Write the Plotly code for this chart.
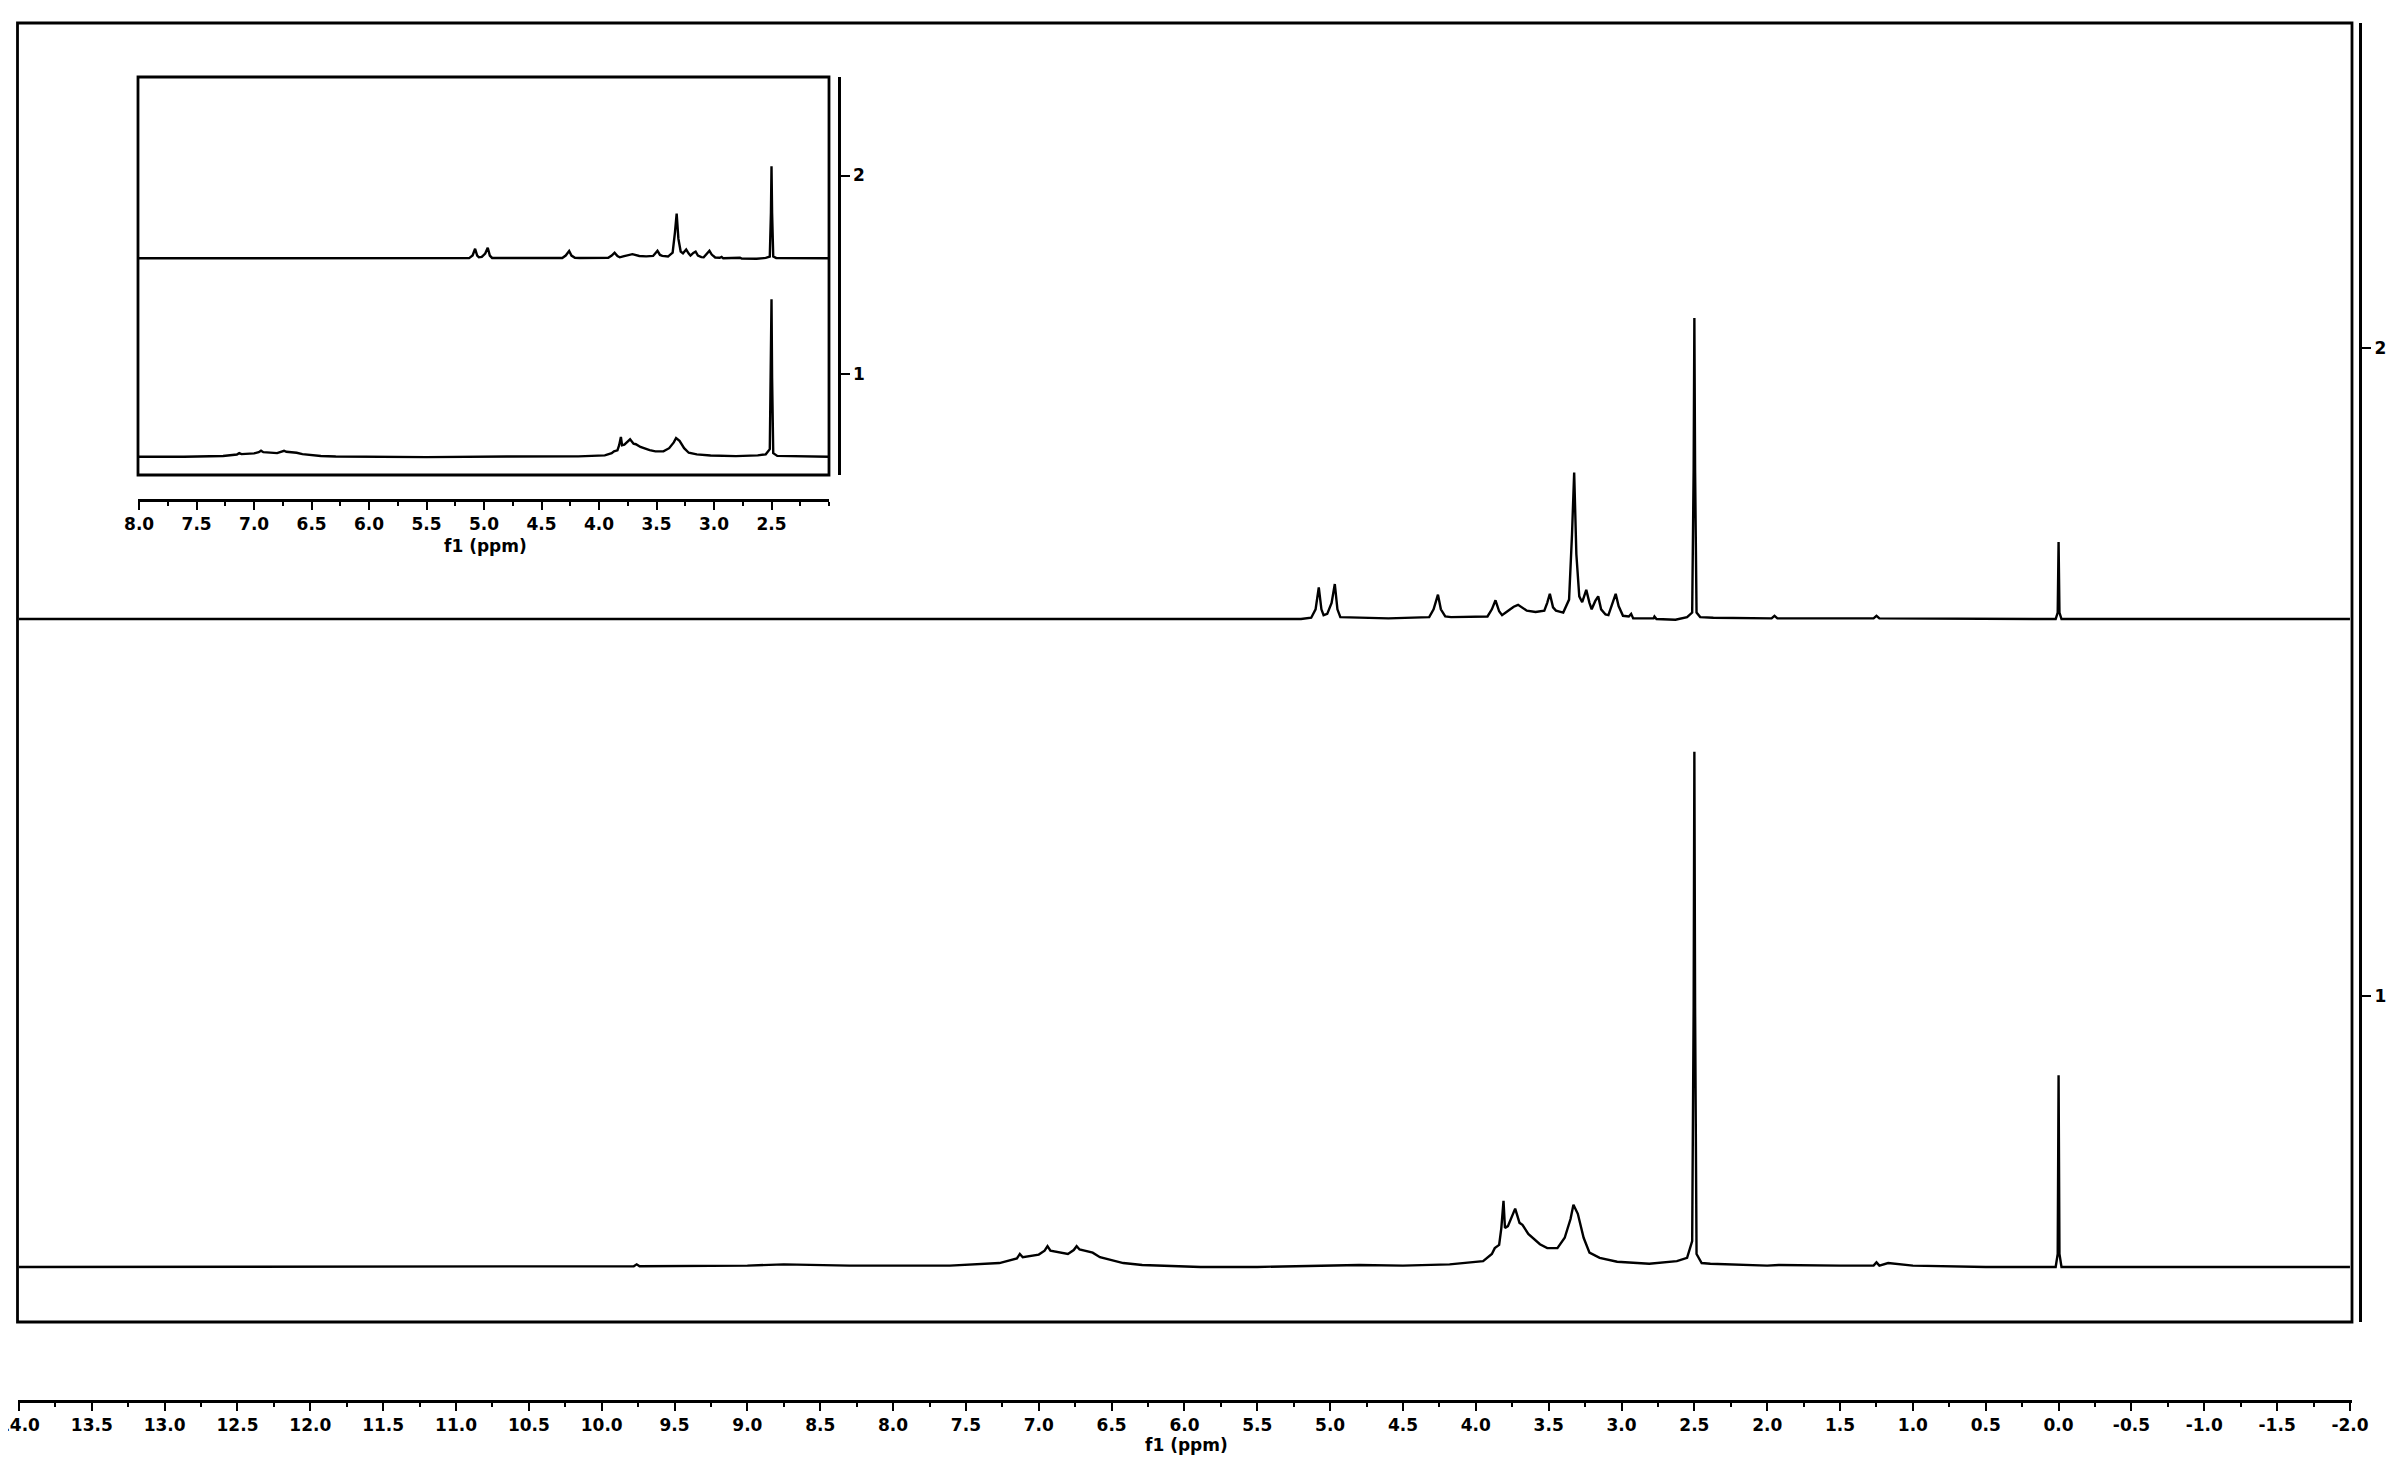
#%%
# Stacked 1H NMR spectra (1 = lower, 2 = upper) with a zoomed inset
import plotly.graph_objects as go

# spectrum 1 - chemical shift (ppm) and intensity above its own baseline
ppm_1 = [14.0, 12.0, 9.78, 9.76, 9.74, 9.0, 8.75, 8.3, 7.61, 7.27, 7.15, 7.13, 7.11,
         7.0, 6.96, 6.94, 6.92, 6.8, 6.76, 6.74, 6.72, 6.63, 6.58, 6.42, 6.29, 5.89,
         5.5, 4.8, 4.5, 4.18, 3.95, 3.89, 3.87, 3.84, 3.825, 3.81, 3.8, 3.78, 3.73,
         3.7, 3.68, 3.64, 3.56, 3.51, 3.44, 3.39, 3.35, 3.33, 3.3, 3.26, 3.22, 3.15,
         3.03, 2.81, 2.62, 2.55, 2.515, 2.505, 2.5, 2.495, 2.485, 2.45, 2.39, 2.0, 1.92,
         1.5, 1.27, 1.25, 1.23, 1.17, 1.0, 0.5, 0.02, 0.006, 0.0, -0.006, -0.02, -2.0]
int_1 = [0.0, 0.001, 0.001, 0.004, 0.001, 0.002, 0.004, 0.002, 0.002, 0.006, 0.013, 0.02, 0.015,
         0.019, 0.025, 0.032, 0.025, 0.02, 0.026, 0.032, 0.027, 0.022, 0.015, 0.006, 0.003, 0.0,
         0.0, 0.003, 0.002, 0.004, 0.009, 0.02, 0.029, 0.034, 0.06, 0.102, 0.06, 0.063, 0.09,
         0.068, 0.065, 0.051, 0.035, 0.029, 0.029, 0.045, 0.074, 0.096, 0.082, 0.045, 0.022, 0.014,
         0.008, 0.005, 0.009, 0.014, 0.04, 0.4, 0.795, 0.4, 0.02, 0.006, 0.005, 0.002, 0.003,
         0.002, 0.002, 0.007, 0.002, 0.006, 0.002, 0.0, 0.0, 0.02, 0.296, 0.02, 0.0, 0.0]

# spectrum 2
ppm_2 = [14.0, 5.2, 5.13, 5.1, 5.078, 5.06, 5.045, 5.02, 4.99, 4.968, 4.95, 4.93, 4.6,
         4.32, 4.29, 4.26, 4.24, 4.21, 4.17, 3.92, 3.89, 3.865, 3.84, 3.82, 3.79, 3.74,
         3.71, 3.65, 3.59, 3.53, 3.51, 3.492, 3.47, 3.45, 3.4, 3.36, 3.34, 3.325, 3.31,
         3.29, 3.27, 3.242, 3.22, 3.205, 3.18, 3.16, 3.14, 3.11, 3.09, 3.06, 3.04, 3.02,
         2.99, 2.95, 2.934, 2.92, 2.78, 2.774, 2.76, 2.63, 2.55, 2.515, 2.505, 2.5, 2.495,
         2.485, 2.46, 2.37, 1.97, 1.95, 1.93, 1.27, 1.25, 1.23, 0.5, 0.02, 0.006, 0.0,
         -0.006, -0.02, -2.0]
int_2 = [0.0, 0.0, 0.002, 0.015, 0.049, 0.015, 0.006, 0.008, 0.025, 0.054, 0.015, 0.003, 0.001,
         0.003, 0.015, 0.0376, 0.015, 0.004, 0.003, 0.004, 0.015, 0.029, 0.012, 0.006, 0.011, 0.019,
         0.022, 0.013, 0.011, 0.013, 0.025, 0.039, 0.018, 0.013, 0.01, 0.03, 0.13, 0.226, 0.1,
         0.035, 0.026, 0.045, 0.025, 0.015, 0.028, 0.035, 0.015, 0.007, 0.006, 0.025, 0.039, 0.02,
         0.005, 0.004, 0.008, 0.001, 0.001, 0.004, 0.0, -0.001, 0.003, 0.01, 0.23, 0.4645, 0.23,
         0.01, 0.003, 0.002, 0.001, 0.005, 0.001, 0.001, 0.005, 0.001, 0.0, 0.0, 0.01, 0.119,
         0.01, 0.0, 0.0]

# axis tick labels
main_tickvals = [14.0, 13.5, 13.0, 12.5, 12.0, 11.5, 11.0, 10.5, 10.0, 9.5, 9.0, 8.5, 8.0,
                 7.5, 7.0, 6.5, 6.0, 5.5, 5.0, 4.5, 4.0, 3.5, 3.0, 2.5, 2.0, 1.5, 1.0, 0.5,
                 0.0, -0.5, -1.0, -1.5, -2.0]
main_ticktext = ["14.0", "13.5", "13.0", "12.5", "12.0", "11.5", "11.0", "10.5", "10.0", "9.5",
                 "9.0", "8.5", "8.0", "7.5", "7.0", "6.5", "6.0", "5.5", "5.0", "4.5", "4.0",
                 "3.5", "3.0", "2.5", "2.0", "1.5", "1.0", "0.5", "0.0", "-0.5", "-1.0",
                 "-1.5", "-2.0"]
inset_tickvals = [8.0, 7.5, 7.0, 6.5, 6.0, 5.5, 5.0, 4.5, 4.0, 3.5, 3.0, 2.5]
inset_ticktext = ["8.0", "7.5", "7.0", "6.5", "6.0", "5.5", "5.0", "4.5", "4.0", "3.5", "3.0", "2.5"]
spectrum_ids = [1, 2]

# %%
# the html body keeps its default 8px margin, so the figure is 16px smaller than the window
PAGE_W, PAGE_H, BODY = 2395, 1464, 8
W, H = PAGE_W - 2 * BODY, PAGE_H - 2 * BODY
offset = 0.418  # each spectrum's baseline sits this far below its label tick
font = dict(family="DejaVu Sans", size=17, color="black", weight="bold")
title_font = dict(family="DejaVu Sans", size=17, color="black", weight="bold")

base_1 = [v + spectrum_ids[0] - offset for v in int_1]
base_2 = [v + spectrum_ids[1] - offset for v in int_2]

fig = go.Figure()
line = dict(color="black", width=2.4)
for xa, ya in [("x", "y"), ("x2", "y2")]:
    fig.add_trace(go.Scatter(x=ppm_1, y=base_1, mode="lines", line=line,
                             xaxis=xa, yaxis=ya, showlegend=False, hoverinfo="skip"))
    fig.add_trace(go.Scatter(x=ppm_2, y=base_2, mode="lines", line=line,
                             xaxis=xa, yaxis=ya, showlegend=False, hoverinfo="skip"))


# window pixel -> paper fraction
def px_x(p):
    return (p - BODY) / W


def px_y(p):
    return 1 - (p - BODY) / H


xcommon = dict(showgrid=False, zeroline=False, showline=True, linecolor="black", linewidth=3,
               ticks="outside", ticklen=8, tickwidth=2, tickcolor="black", tickfont=font,
               tickmode="array", automargin=False, ticklabeloverflow="allow",
               minor=dict(tickmode="linear", tick0=0, dtick=0.25, ticks="outside",
                          ticklen=4, tickwidth=2, tickcolor="black", showgrid=False))
ycommon = dict(showgrid=False, zeroline=False, showline=True, linecolor="black", linewidth=3,
               ticks="outside", ticklen=9, tickwidth=2, tickcolor="black", tickfont=font,
               tickmode="array", tickvals=spectrum_ids, ticktext=[str(i) for i in spectrum_ids],
               side="right", automargin=False, ticklabeloverflow="allow")

fig.update_layout(
    width=W, height=H,
    margin=dict(l=0, r=0, t=0, b=0, autoexpand=False),
    paper_bgcolor="white", plot_bgcolor="white",
    xaxis=dict(xcommon, domain=[px_x(17.5), px_x(2352)], range=[14.01, -2.014],
               anchor="free", position=px_y(1400.5),
               tickvals=main_tickvals, ticktext=main_ticktext),
    yaxis=dict(ycommon, domain=[px_y(1322), px_y(23)], range=[0.497, 2.502],
               anchor="free", position=px_x(2360)),
    xaxis2=dict(xcommon, domain=[px_x(138), px_x(829)], range=[8.01, 2.0],
                anchor="free", position=px_y(499.5),
                tickvals=inset_tickvals, ticktext=inset_ticktext),
    yaxis2=dict(ycommon, domain=[px_y(475), px_y(77)], range=[0.492, 2.496],
                anchor="free", position=px_x(838.5)),
)

# frames round the two plot areas
for xr, yr in [("x domain", "y domain"), ("x2 domain", "y2 domain")]:
    fig.add_shape(type="rect", xref=xr, yref=yr, x0=0, x1=1, y0=0, y1=1,
                  line=dict(color="black", width=2.8))

# axis titles
fig.add_annotation(text="f1 (ppm)", xref="paper", yref="paper", x=px_x(1186), y=px_y(1445),
                   showarrow=False, font=title_font, xanchor="center", yanchor="middle")
fig.add_annotation(text="f1 (ppm)", xref="paper", yref="paper", x=px_x(485), y=px_y(546),
                   showarrow=False, font=title_font, xanchor="center", yanchor="middle")

fig.write_html("out.html")
